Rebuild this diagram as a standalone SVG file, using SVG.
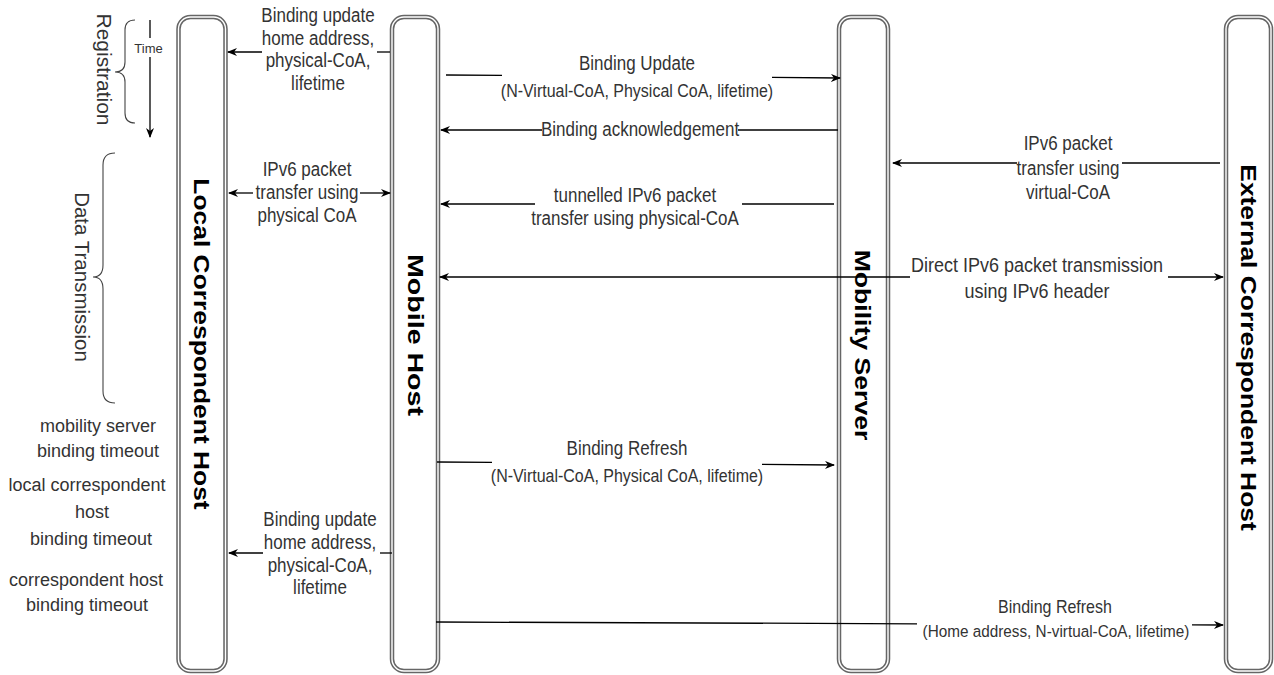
<svg xmlns="http://www.w3.org/2000/svg" width="1274" height="675" viewBox="0 0 1274 675">
<style>
.bg{fill:#fff}
.ll{fill:#fff;stroke:#666;stroke-width:4.5}
.lli{fill:none;stroke:#fff;stroke-width:1.4}
.t{font-family:"Liberation Sans",Arial,sans-serif;fill:#333;text-anchor:middle}
.m{font-size:17px}
.d{font-size:18px}
.p{font-size:16px}
.l{font-size:18px}
.s{font-size:13px}
.vr{font-size:21px;dominant-baseline:central}
.v{font-family:"Liberation Sans",Arial,sans-serif;font-weight:bold;font-size:22px;fill:#000;text-anchor:middle;dominant-baseline:central}
.c{stroke:#000;stroke-width:1.3;fill:none}
.a{marker-end:url(#ah)}
.b{marker-start:url(#ah)}
.br{stroke:#444;stroke-width:1.1;fill:none}
</style>
<defs>
<marker id="ah" viewBox="0 0 10 8" refX="9" refY="4" markerWidth="10" markerHeight="8" markerUnits="userSpaceOnUse" orient="auto-start-reverse">
<path d="M0,0 L10,4 L0,8 L3,4 z" fill="#000"/>
</marker>
</defs>
<rect class="bg" x="0" y="0" width="1274" height="675"/>

<g id="local-host">
<rect class="ll" x="178.5" y="17" width="47" height="654" rx="12"/>
<rect class="lli" x="178.5" y="17" width="47" height="654" rx="12"/>
<text class="v" transform="translate(201.5,344) scale(1,1.2) rotate(90)">Local Correspondent Host</text>
</g>
<g id="mobile-host">
<rect class="ll" x="392" y="17" width="46" height="654" rx="12"/>
<rect class="lli" x="392" y="17" width="46" height="654" rx="12"/>
<text class="v" transform="translate(416,335) scale(1,1.3) rotate(90)">Mobile Host</text>
</g>
<g id="mobility-server">
<rect class="ll" x="839" y="17" width="49" height="654" rx="12"/>
<rect class="lli" x="839" y="17" width="49" height="654" rx="12"/>
<text class="v" transform="translate(863,345) scale(1,1.21) rotate(90)">Mobility Server</text>
</g>
<g id="external-host">
<rect class="ll" x="1226" y="17" width="45" height="654" rx="12"/>
<rect class="lli" x="1226" y="17" width="45" height="654" rx="12"/>
<text class="v" transform="translate(1249,347.5) scale(1,1.2) rotate(90)">External Correspondent Host</text>
</g>

<g id="annotations">
<text class="t vr" transform="translate(104,69.5) rotate(90)">Registration</text>
<path class="br" d="M135,20 Q125,20 125,30 L125,62 Q125,72 115,72 Q125,72 125,82 L125,113 Q125,123 135,123"/>
<text class="t s" x="148.5" y="53">Time</text>
<line class="c" x1="150" y1="20" x2="150" y2="38"/>
<line class="c a" x1="150" y1="57" x2="150" y2="137"/>
<text class="t vr" style="font-size:20.5px" transform="translate(82,277) rotate(90)">Data Transmission</text>
<path class="br" d="M115,153 Q103,153 103,165 L103,265 Q103,277 93,277 Q103,277 103,289 L103,391 Q103,403 115,403"/>
<text class="t l" x="98" y="432">mobility server</text>
<text class="t l" x="98" y="457">binding timeout</text>
<text class="t l" x="87" y="491">local correspondent</text>
<text class="t l" x="92" y="518">host</text>
<text class="t l" x="91" y="545">binding timeout</text>
<text class="t l" x="86" y="586">correspondent host</text>
<text class="t l" x="87" y="611">binding timeout</text>
</g>

<g id="connectors">
<!-- Binding update (top) MH -> LCH -->
<line class="c" x1="390" y1="52" x2="377" y2="52"/>
<line class="c a" x1="262" y1="52" x2="228" y2="52"/>
<text class="t m" transform="translate(318,22) scale(1,1.15)"><tspan x="0" y="0">Binding update</tspan><tspan x="0" y="20">home address,</tspan><tspan x="0" y="39.1">physical-CoA,</tspan><tspan x="0" y="59.1">lifetime</tspan></text>

<!-- Binding Update MH -> MS -->
<line class="c" x1="446" y1="75" x2="502" y2="75.4"/>
<line class="c a" x1="772" y1="77.4" x2="840" y2="78"/>
<text class="t m" transform="translate(637,70) scale(1,1.15)">Binding Update</text>
<text class="t p" transform="translate(637,97) scale(1,1.12)">(N-Virtual-CoA, Physical CoA, lifetime)</text>

<!-- Binding acknowledgement MS -> MH -->
<line class="c" x1="838" y1="130" x2="738" y2="130"/>
<line class="c a" x1="542" y1="130" x2="441" y2="130"/>
<text class="t m" transform="translate(640,136) scale(1,1.15)">Binding acknowledgement</text>

<!-- tunnelled IPv6 MS -> MH -->
<line class="c" x1="834" y1="204" x2="742" y2="204"/>
<line class="c a" x1="535" y1="204" x2="441" y2="204"/>
<text class="t m" transform="translate(635,202) scale(1,1.15)"><tspan x="0" y="0">tunnelled IPv6 packet</tspan><tspan x="0" y="20">transfer using physical-CoA</tspan></text>

<!-- IPv6 packet via virtual-CoA ECH -> MS -->
<line class="c" x1="1220" y1="163" x2="1122" y2="163"/>
<line class="c a" x1="1017" y1="163" x2="893" y2="163"/>
<text class="t m" transform="translate(1068,150) scale(1,1.15)"><tspan x="0" y="0">IPv6 packet</tspan><tspan x="0" y="21.7">transfer using</tspan><tspan x="0" y="42.6">virtual-CoA</tspan></text>

<!-- IPv6 packet transfer LCH <-> MH -->
<line class="c b" x1="229" y1="193" x2="253" y2="193"/>
<line class="c a" x1="360" y1="193" x2="390" y2="193"/>
<text class="t m" transform="translate(307,176) scale(1,1.15)"><tspan x="0" y="0">IPv6 packet</tspan><tspan x="0" y="20">transfer using</tspan><tspan x="0" y="40">physical CoA</tspan></text>

<!-- Direct IPv6 MH <-> ECH -->
<line class="c b" x1="440" y1="277" x2="910" y2="277"/>
<line class="c a" x1="1168" y1="277" x2="1223" y2="277"/>
<text class="t d" transform="translate(1037,272) scale(1,1.12)"><tspan x="0" y="0">Direct IPv6 packet transmission</tspan><tspan x="0" y="23.2">using IPv6 header</tspan></text>

<!-- Binding Refresh MH -> MS -->
<line class="c" x1="437" y1="462" x2="492" y2="462.4"/>
<line class="c a" x1="762" y1="464.4" x2="834" y2="465"/>
<text class="t m" transform="translate(627,455) scale(1,1.15)">Binding Refresh</text>
<text class="t p" transform="translate(627,482) scale(1,1.12)">(N-Virtual-CoA, Physical CoA, lifetime)</text>

<!-- Binding update (bottom) MH -> LCH -->
<line class="c" x1="392" y1="553" x2="380" y2="553"/>
<line class="c a" x1="263" y1="553" x2="229" y2="553"/>
<text class="t m" transform="translate(320,526) scale(1,1.15)"><tspan x="0" y="0">Binding update</tspan><tspan x="0" y="20">home address,</tspan><tspan x="0" y="40">physical-CoA,</tspan><tspan x="0" y="59.1">lifetime</tspan></text>

<!-- Binding Refresh MH -> ECH -->
<line class="c" x1="436" y1="622" x2="917" y2="623.8"/>
<line class="c a" x1="1192" y1="624.8" x2="1223" y2="625"/>
<text class="t" style="font-size:16px" transform="translate(1055,613) scale(1,1.15)">Binding Refresh</text>
<text class="t" style="font-size:15.3px" transform="translate(1056,637) scale(1,1.12)">(Home address, N-virtual-CoA, lifetime)</text>
</g>
</svg>
